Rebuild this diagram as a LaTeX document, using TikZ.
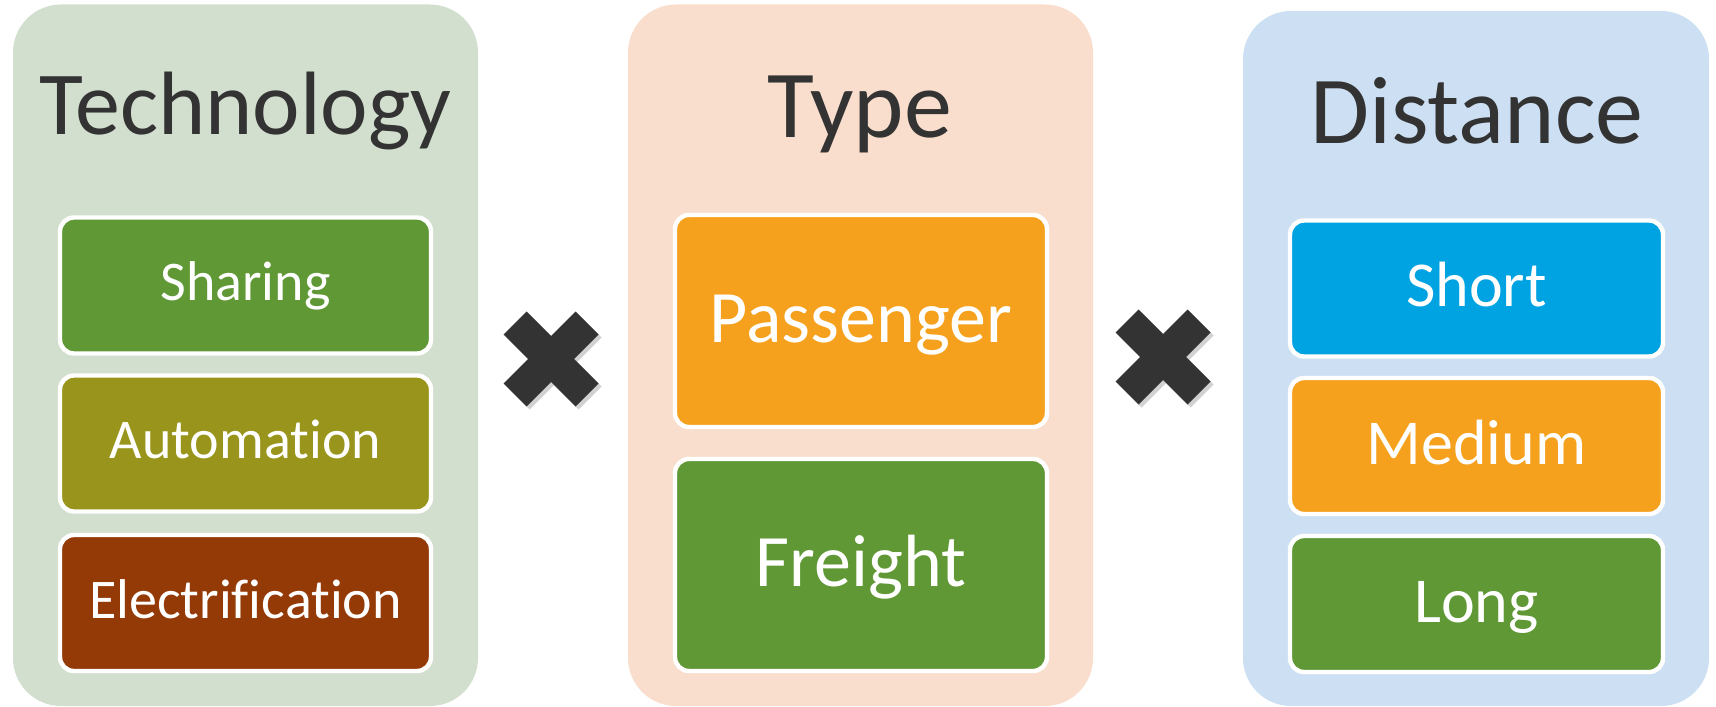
\documentclass[tikz,border=0pt]{standalone}
\usepackage{fontspec}
\setmainfont[Ligatures=NoCommon]{Carlito}
\definecolor{techbg}{RGB}{211,223,206}
\definecolor{typebg}{RGB}{250,222,205}
\definecolor{distbg}{RGB}{205,224,243}
\definecolor{cgreen}{RGB}{95,152,53}
\definecolor{colive}{RGB}{153,149,28}
\definecolor{cbrown}{RGB}{148,58,6}
\definecolor{corange}{RGB}{245,161,29}
\definecolor{cblue}{RGB}{0,163,226}
\definecolor{darktext}{RGB}{51,51,51}
\tikzset{
  panel/.style={rounded corners=24pt, inner sep=0pt, minimum width=232.5pt},
  titletext/.style={anchor=base, inner sep=0pt, text=darktext},
  itembox/.style={draw=white, line width=2.2pt, rounded corners=7pt, inner sep=0pt,
    text=white, text depth=0pt, minimum height=68pt},
  techitem/.style={itembox, minimum width=185.5pt, text height=15pt, font=\fontsize{28pt}{34pt}\selectfont},
  typeitem/.style={itembox, minimum width=186pt, minimum height=106pt, text height=21pt, font=\fontsize{37pt}{44pt}\selectfont},
  distitem/.style={itembox, minimum width=186.5pt, text height=18pt, font=\fontsize{32pt}{38pt}\selectfont},
  crossshape/.pic={
    \fill[black, opacity=0.18] (3,-20) -- (27.5,-44.5) -- (50.5,-21.5) -- (26,3) -- (50.5,27.5) -- (27.5,50.5) -- (3,26) -- (-21.5,50.5) -- (-44.5,27.5) -- (-20,3) -- (-44.5,-21.5) -- (-21.5,-44.5) -- cycle;
    \fill[darktext] (0,-23) -- (24.5,-47.5) -- (47.5,-24.5) -- (23,0) -- (47.5,24.5) -- (24.5,47.5) -- (0,23) -- (-24.5,47.5) -- (-47.5,24.5) -- (-23,0) -- (-47.5,-24.5) -- (-24.5,-47.5) -- cycle;
  }
}
\begin{document}
\begin{tikzpicture}[x=0.5pt,y=-0.5pt]
\useasboundingbox (0,0) rectangle (1716,706);
% panels
\node[panel, fill=techbg, minimum height=350.75pt] (ptech) at (245.5,355.25) {};
\node[panel, fill=typebg, minimum height=350.75pt] (ptype) at (860.5,355.25) {};
\node[panel, fill=distbg, minimum height=347.5pt, minimum width=233pt] (pdist) at (1476,358.5) {};
% titles
\node[titletext, font=\fontsize{45pt}{54pt}\selectfont] (ttech) at (245.5,134) {Technology};
\node[titletext, font=\fontsize{48pt}{57pt}\selectfont] (ttype) at (860,137) {Type};
\node[titletext, font=\fontsize{48pt}{57pt}\selectfont] (tdist) at (1477,143) {Distance};
% technology items
\node[techitem, fill=cgreen] (sharing) at (245.5,285.5) {Sharing};
\node[techitem, fill=colive] (automation) at (245.5,443.5) {Automation};
\node[techitem, fill=cbrown] (electrification) at (245.5,603) {Electrification};
% type items
\node[typeitem, fill=corange] (passenger) at (861,321) {Passenger};
\node[typeitem, fill=cgreen] (freight) at (861,565) {Freight};
% distance items
\node[distitem, fill=cblue] (short) at (1476.5,288.5) {Short};
\node[distitem, fill=corange] (medium) at (1476.5,446) {Medium};
\node[distitem, fill=cgreen] (long) at (1476.5,604) {Long};
% crosses
\coordinate (x1) at (551,359);
\coordinate (x2) at (1163,357);
\pic at (x1) {crossshape};
\pic at (x2) {crossshape};
\end{tikzpicture}
\end{document}
